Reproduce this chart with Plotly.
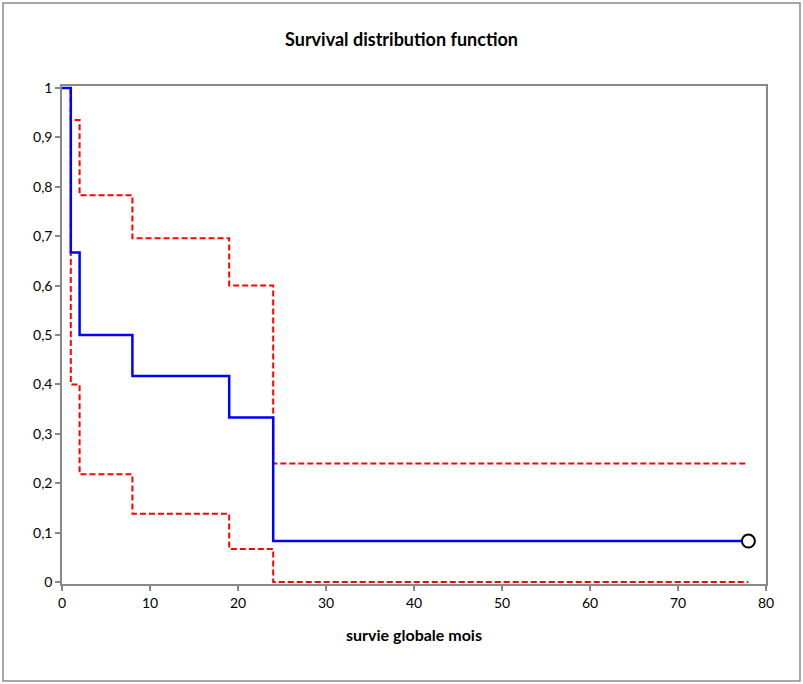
import plotly.graph_objects as go

# Kaplan-Meier survival estimate
times = [0, 1, 2, 8, 19, 24, 78]
survival = [1.0, 0.667, 0.5, 0.417, 0.333, 0.083, 0.083]

# Confidence bounds
upper_times = [1, 1, 2, 8, 19, 24, 78]
upper = [1.0, 0.935, 0.783, 0.696, 0.600, 0.240, 0.240]
lower_times = [1, 1, 2, 8, 19, 24, 78]
lower = [1.0, 0.400, 0.218, 0.138, 0.067, 0.0, 0.0]

# Censored observation
cens_t = [78]
cens_s = [0.083]

x_ticks = [0, 10, 20, 30, 40, 50, 60, 70, 80]
y_ticks = [0, 0.1, 0.2, 0.3, 0.4, 0.5, 0.6, 0.7, 0.8, 0.9, 1]
y_labels = ["0", "0,1", "0,2", "0,3", "0,4", "0,5", "0,6", "0,7", "0,8", "0,9", "1"]

FONT = "Lato, Open Sans, sans-serif"

fig = go.Figure()
fig.add_trace(go.Scatter(x=upper_times, y=upper, mode="lines", line_shape="hv",
                         line=dict(color="#ff0000", width=2, dash="6px,3px"), showlegend=False))
fig.add_trace(go.Scatter(x=lower_times, y=lower, mode="lines", line_shape="hv",
                         line=dict(color="#ff0000", width=2, dash="6px,3px"), showlegend=False))
fig.add_trace(go.Scatter(x=times, y=survival, mode="lines", line_shape="hv",
                         line=dict(color="#0000ff", width=2.5), showlegend=False))
fig.add_trace(go.Scatter(x=cens_t, y=cens_s, mode="markers", cliponaxis=False,
                         marker=dict(symbol="circle", size=13, color="white",
                                     line=dict(color="black", width=2)), showlegend=False))

axis_common = dict(showgrid=False, zeroline=False, showline=True, linecolor="#888888",
                   linewidth=1.5, mirror=True, ticks="outside", ticklen=5,
                   tickcolor="#888888", tickwidth=1.5, layer="below traces",
                   tickfont=dict(family=FONT, size=14, color="black"))

fig.update_layout(
    width=803, height=684,
    margin=dict(l=62, r=37, t=86, b=100),
    paper_bgcolor="white", plot_bgcolor="white",
    title=dict(text="<b>Survival distribution function</b>", x=0.5, xanchor="center",
               y=1 - 40 / 684, yanchor="middle",
               font=dict(family=FONT, size=18, color="black")),
    xaxis=dict(range=[0, 80], tickvals=x_ticks, **axis_common,
               title=dict(text="<b>survie globale mois</b>", standoff=20,
                          font=dict(family=FONT, size=16, color="black"))),
    yaxis=dict(range=[-0.004, 1.004], tickvals=y_ticks, ticktext=y_labels, **axis_common),
    shapes=[dict(type="rect", xref="paper", yref="paper",
                 x0=(3 - 62) / 704, x1=(800 - 62) / 704,
                 y0=(584 - 681) / 498, y1=(584 - 3) / 498,
                 line=dict(color="#8a8a8a", width=1.5), layer="below")],
)

fig.write_html("out.html")
